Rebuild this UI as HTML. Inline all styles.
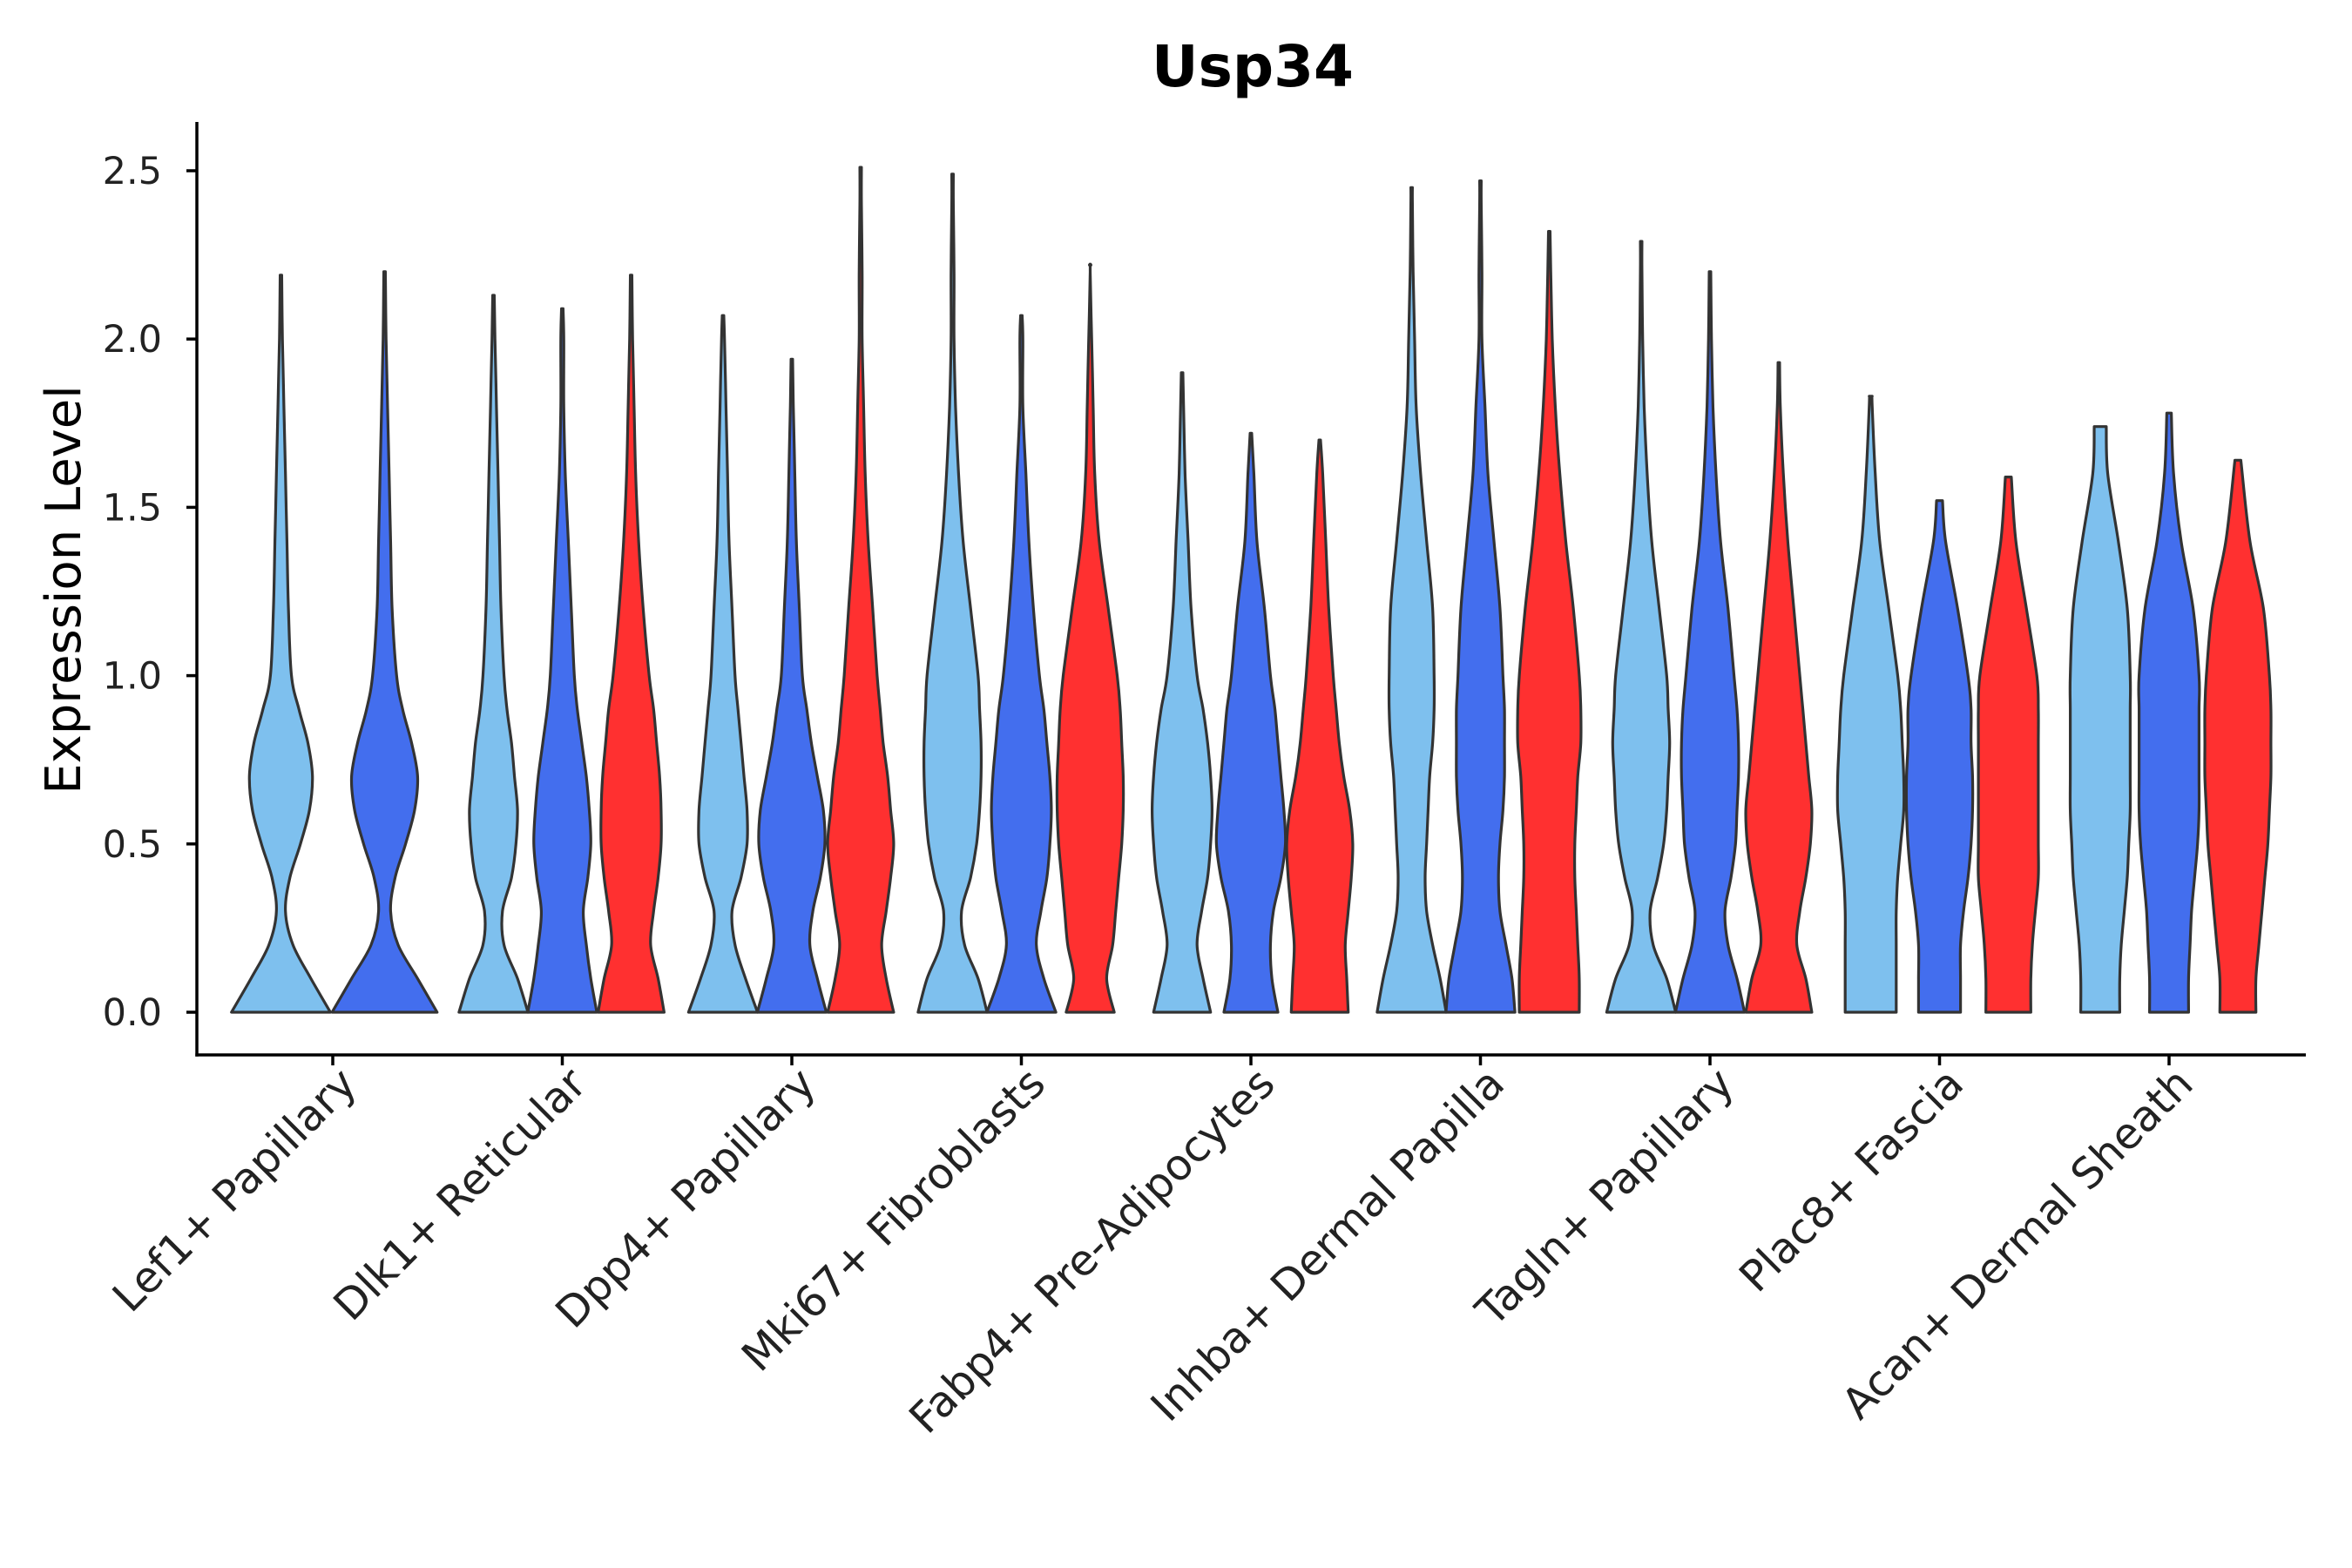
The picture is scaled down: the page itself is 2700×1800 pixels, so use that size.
<!DOCTYPE html>
<html><head><meta charset="utf-8"><style>
html,body{margin:0;padding:0;background:#fff;}
svg{display:block;font-family:"DejaVu Sans","Liberation Sans",sans-serif;}
</style></head><body>
<svg id="chart" width="2700" height="1800" viewBox="0 0 2700 1800" xmlns="http://www.w3.org/2000/svg">
<rect width="2700" height="1800" fill="#fff"/>
<text x="1438" y="99" text-anchor="middle" font-size="66" font-weight="bold">Usp34</text>
<text transform="translate(92,677) rotate(-90)" text-anchor="middle" font-size="56">Expression Level</text>
<g id="violins"></g>
<g id="axes"></g>
</svg>
<script>
const categories = ["Lef1+ Papillary","Dlk1+ Reticular","Dpp4+ Papillary","Mki67+ Fibroblasts","Fabp4+ Pre-Adipocytes","Inhba+ Dermal Papilla","Tagln+ Papillary","Plac8+ Fascia","Acan+ Dermal Sheath"];
const yTicks = [0, 0.5, 1.0, 1.5, 2.0, 2.5];
const yTickLabels = ["0.0","0.5","1.0","1.5","2.0","2.5"];
const levels = [0,0.1,0.2,0.3,0.4,0.5,0.6,0.7,0.8,0.9,1.0,1.2,1.4,1.6,1.8,2.0,2.2,2.4];
const groupNames = ["light","dark","red"];
const maxVals = [
 [2.19,2.20,null],[2.13,2.09,2.19],[2.07,1.94,2.51],[2.49,2.07,2.22],[1.90,1.72,1.70],
 [2.45,2.47,2.32],[2.29,2.20,1.93],[1.83,1.52,1.59],[1.74,1.78,1.64]];
const densities = [
 [[33,20,8,3,6,13,19,21,18,12,7,5,4,3,2,1,0],[35,22,9,4,7,14,20,22,18,12,8,5,4,3,2,1,0],null],
 [[23,16,7,6,12,15,16,14,12,9,7,5,4,3,2,1],[23,19,16,14,17,19,18,16,13,10,8,6,4,2,1,1],[22,18,13,15,18,20,20,19,17,15,12,8,5,3,2,1,0]],
 [[23,15,8,6,12,16,16,14,12,10,8,6,4,3,2,1],[23,17,12,14,19,22,21,17,13,10,7,5,3,2,1],[22,17,14,17,20,22,20,18,15,13,11,8,5,3,2,1,1,0.5]],
 [[23,17,8,6,12,16,18,19,19,18,17,12,7,4,2,1,1,0.5],[23,15,10,13,17,19,20,19,17,15,12,8,5,3,1,1],[16,11,15,17,19,21,22,22,21,20,18,12,6,3,2,1,0]],
 [[19,14,10,13,17,19,20,19,17,14,10,6,4,2,1],[18,14,13,15,20,23,22,20,18,16,13,9,4,2],[19,18,17,19,21,22,20,16,13,11,9,6,4,2]],
 [[23,19,14,10,9,10,11,12,14,15,15,14,10,6,3,2,1,0.5],[23,21,17,13,12,13,15,16,16,16,15,13,9,5,3,1,1,0.5],[20,20,19,18,17,17,18,19,21,21,20,16,11,7,4,2,1]],
 [[23,17,8,6,11,15,17,18,19,18,17,12,7,4,2,1,0.5],[23,18,12,10,14,17,18,19,19,18,16,12,7,4,2,1,0],[22,18,12,14,18,21,22,20,18,16,14,10,6,3,1]],
 [[17,17,17,17,18,20,22,22,21,20,18,12,6,3,1],[14,14,14,16,19,21,22,22,21,21,19,12,4],[15,15,16,18,20,20,20,20,20,20,19,12,5]],
 [[13,13,14,16,18,19,20,20,20,20,20,18,12,5],[13,13,14,15,17,19,20,20,20,20,20,16,8,3],[12,12,14,16,18,20,21,22,22,22,21,17,8]]];
const topWidths = [
 [0.5,0.5,0],[0.5,0.5,0.5],[0.5,0.5,0.5],[0.5,0.5,0.5],[0.5,0.5,0.5],
 [0.5,0.5,0.5],[0.5,0.5,0.5],[1,2,2],[4,1.5,2]];

const colors = {light:"#7EC0EE",dark:"#436EEE",red:"#FF3030"};
const NS="http://www.w3.org/2000/svg";
const X0=226, X1=2647, Y0=1211;
const xScale = i => 382 + i*263.5;
const yScale = v => 1162 - v*386.4;
const wScale = 1.722;
const vg=document.getElementById('violins');
const ag=document.getElementById('axes');

function catmull(pts){
  let d="";
  for(let i=0;i<pts.length-1;i++){
    const p0=pts[Math.max(0,i-1)],p1=pts[i],p2=pts[i+1],p3=pts[Math.min(pts.length-1,i+2)];
    const c1=[p1[0]+(p2[0]-p0[0])/6,p1[1]+(p2[1]-p0[1])/6];
    const c2=[p2[0]-(p3[0]-p1[0])/6,p2[1]-(p3[1]-p1[1])/6];
    d+=` C${c1[0].toFixed(1)},${c1[1].toFixed(1)} ${c2[0].toFixed(1)},${c2[1].toFixed(1)} ${p2[0].toFixed(1)},${p2[1].toFixed(1)}`;
  }
  return d;
}

categories.forEach((cat,ci)=>{
  const present=[0,1,2].filter(g=>maxVals[ci][g]!==null && densities[ci][g]);
  const n=present.length;
  const step = n===3?79:119;
  present.forEach((g,k)=>{
    const cx = xScale(ci) + (k-(n-1)/2)*step;
    const mx=maxVals[ci][g], den=densities[ci][g];
    const pts=[];
    for(let i=0;i<levels.length && i<den.length;i++){
      if(levels[i]>=mx) break;
      pts.push([levels[i],den[i]]);
    }
    pts.push([mx,topWidths[ci][g]]);
    const right=pts.map(p=>[cx+p[1]*wScale,yScale(p[0])]);
    const left=pts.slice().reverse().map(p=>[cx-p[1]*wScale,yScale(p[0])]);
    let d=`M${cx.toFixed(1)},${yScale(0)} L${right[0][0].toFixed(1)},${right[0][1].toFixed(1)}`+catmull(right)+
      ` L${left[0][0].toFixed(1)},${left[0][1].toFixed(1)}`+catmull(left)+" Z";
    const p=document.createElementNS(NS,'path');
    p.setAttribute('d',d);
    p.setAttribute('fill',colors[groupNames[g]]);
    p.setAttribute('stroke','#333');
    p.setAttribute('stroke-width','3.2');
    p.setAttribute('stroke-linejoin','round');
    
    
    vg.appendChild(p);
  });
});

function line(x1,y1,x2,y2,name){
  const l=document.createElementNS(NS,'line');
  l.setAttribute('x1',x1);l.setAttribute('y1',y1);l.setAttribute('x2',x2);l.setAttribute('y2',y2);
  l.setAttribute('stroke','#000');l.setAttribute('stroke-width','3.5');
  
  
  ag.appendChild(l);
}
line(X0,140,X0,Y0+1.7,'y-axis-line');
line(X0-1.7,Y0,X1,Y0,'x-axis-line');
yTicks.forEach((v,i)=>{
  line(X0-12,yScale(v),X0,yScale(v),'y-tick');
  const t=document.createElementNS(NS,'text');
  t.setAttribute('x',X0-40);t.setAttribute('y',yScale(v)+15);
  t.setAttribute('text-anchor','end');t.setAttribute('font-size','43');t.setAttribute('fill','#222');
  t.textContent=yTickLabels[i];
  
  
  ag.appendChild(t);
});
categories.forEach((c,i)=>{
  const x=xScale(i);
  line(x,Y0,x,Y0+12,'x-tick');
  const t=document.createElementNS(NS,'text');
  t.setAttribute('transform',`translate(${x+30},${Y0+36}) rotate(-45)`);
  t.setAttribute('text-anchor','end');t.setAttribute('font-size','49');t.setAttribute('fill','#222');
  t.textContent=c;
  
  
  ag.appendChild(t);
});
</script>
</body></html>
